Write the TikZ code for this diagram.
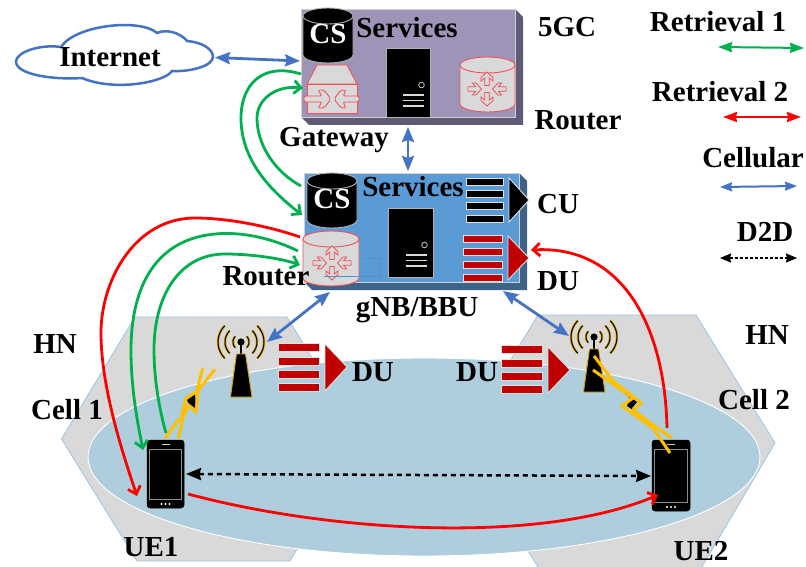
\documentclass[tikz,border=0pt]{standalone}
\usepackage{fontspec}
\setmainfont{Liberation Serif}
\usetikzlibrary{arrows.meta,shapes.geometric}
\definecolor{cblue}{HTML}{4472C4}
\definecolor{cgreen}{HTML}{00B050}
\definecolor{cred}{HTML}{FF0000}
\definecolor{cyel}{HTML}{FFC000}
\definecolor{dred}{HTML}{C00000}
\definecolor{hexf}{HTML}{D9D9D9}
\definecolor{hexl}{HTML}{9DC3E6}
\definecolor{ellf}{HTML}{AECDDD}
\definecolor{iconr}{HTML}{F25058}
\definecolor{facea}{HTML}{9E94B8}
\definecolor{sidea}{HTML}{5F5A75}
\definecolor{faceb}{HTML}{5B9BD5}
\definecolor{sideb}{HTML}{3D6488}
\tikzset{
 lbl/.style={font=\fontsize{29}{31}\selectfont\bfseries,text=black,inner sep=0pt},
 cslbl/.style={font=\fontsize{29}{31}\selectfont\bfseries,text=white,inner sep=0pt},
 blink/.style={cblue,line width=2.8pt,{Stealth[length=15pt,width=12pt,inset=2pt]}-{Stealth[length=15pt,width=12pt,inset=2pt]}},
 blegend/.style={cblue,line width=2pt,{Stealth[length=12pt,width=9pt,inset=1pt]}-{Stealth[length=12pt,width=9pt,inset=1pt]}},
 glegend/.style={cgreen,line width=2pt,{Stealth[length=14pt,width=10pt,inset=1pt]}-{Stealth[length=14pt,width=10pt,inset=1pt]}},
 rlegend/.style={cred,line width=2pt,{Stealth[length=14pt,width=10pt,inset=1pt]}-{Stealth[length=14pt,width=10pt,inset=1pt]}},
 dlegend/.style={black,line width=1.6pt,dash pattern=on 3pt off 2pt,{Stealth[length=11pt,width=9pt,inset=1pt]}-{Stealth[length=11pt,width=9pt,inset=1pt]}},
 dmain/.style={black,line width=2.5pt,dash pattern=on 5pt off 4pt,{Stealth[length=15pt,width=12pt,inset=1.5pt]}-{Stealth[length=15pt,width=12pt,inset=1.5pt]}},
 gcurve/.style={cgreen,line width=2.8pt},
 rcurve/.style={cred,line width=2.8pt},
 barb/.style={-{Straight Barb[length=7pt,width=13pt,line width=2.8pt]}},
 hex/.style={fill=hexf,draw=hexl,line width=0.8pt},
 bolt/.style={cyel,line width=3pt,line join=miter},
 icon/.style={draw=iconr,line width=0.9pt,line join=miter},
 server/.style={fill=black,draw=black!30,line width=0.9pt},
 phone/.style={fill=black,rounded corners=3pt,draw=black,line width=0.5pt},
}
\newcommand\Cyl[6]{%
 \pgfmathsetmacro\cxm{(#1+#3)/2}\pgfmathsetmacro\crx{(#3-#1)/2*0.55}%
 \pgfmathsetmacro\cxa{\cxm-\crx}\pgfmathsetmacro\cxb{\cxm+\crx}%
 \pgfmathsetmacro\cya{#2+8}\pgfmathsetmacro\cyb{#4-8}%
 \pgfmathsetmacro\cyc{#2+3.6}\pgfmathsetmacro\cyd{#4-3.6}%
 \pgfmathsetmacro\cye{\cya+4.4}\pgfmathsetmacro\cyf{\cya+8}%
 \draw[fill=#5,draw=#6,line width=0.9pt]
  (#1,\cya) .. controls (#1,\cyc) and (\cxa,#2) .. (\cxm,#2)
  .. controls (\cxb,#2) and (#3,\cyc) .. (#3,\cya) -- (#3,\cyb)
  .. controls (#3,\cyd) and (\cxb,#4) .. (\cxm,#4)
  .. controls (\cxa,#4) and (#1,\cyd) .. (#1,\cyb) -- cycle;
 \draw[draw=#6,line width=0.9pt] (#1,\cya) .. controls (#1,\cye) and (\cxa,\cyf) .. (\cxm,\cyf)
  .. controls (\cxb,\cyf) and (#3,\cye) .. (#3,\cya);
}
\newcommand\Oarrow[3]{%
 \begin{scope}[shift={(#1,#2)},rotate=#3]
  \draw[icon,line width=0.8pt,fill=hexf] (0,-2.2) -- (7.5,-2.2) -- (4.5,-6) -- (8,-6) -- (13.5,0) -- (8,6) -- (4.5,6) -- (7.5,2.2) -- (0,2.2) -- cycle;
 \end{scope}}
\newcommand\Router[2]{%
 \Oarrow{#1}{#2-3.5}{90}\Oarrow{#1}{#2+3.5}{-90}%
 \Oarrow{#1-19}{#2}{0}\Oarrow{#1+19}{#2}{180}}
\newcommand\Server[4]{%
 \draw[server] (#1,#2) rectangle (#3,#4);
 \pgfmathsetmacro\sxa{#3-8.5}\pgfmathsetmacro\sya{#4-32}%
 \draw[black!30,line width=0.9pt] (\sxa,\sya) circle[radius=2.8pt];
 \pgfmathsetmacro\sxb{#3-27}\pgfmathsetmacro\sxc{#3-6}%
 \foreach \d in {22,16.5,11}{\pgfmathsetmacro\syy{#4-\d}\draw[black!15,line width=1.1pt] (\sxb,\syy) -- (\sxc,\syy);}
}
\newcommand\Bars[8]{%
 \foreach \yy in {#3,#4,#5,#6}{\pgfmathsetmacro\yyb{\yy+#7}\draw[fill=#8,draw=black!12,line width=0.9pt] (#1,\yy) rectangle (#2,\yyb);}
}
\newcommand\Antenna[2]{%
 \foreach \rr in {8,16,23}{
  \foreach \lo/\hi in {-45/45,135/225}{
   \draw[cyel!85!black,line width=2.4pt] plot[domain=\lo:\hi,samples=10] ({#1+\rr*cos(\x)},{#2+\rr*sin(\x)});
   \draw[black,line width=1pt] plot[domain=\lo:\hi,samples=10] ({#1+\rr*cos(\x)},{#2+\rr*sin(\x)});
  }}
 \draw[black,line width=1.6pt] (#1,#2) -- (#1,#2+14);
 \fill[black] (#1,#2) circle[radius=3.6pt];
 \draw[fill=black,draw=cyel!85!black,line width=0.9pt] (#1-4.5,#2+12) -- (#1+4.5,#2+12) -- (#1+11,#2+55) -- (#1-10.5,#2+55) -- cycle;
}
\newcommand\Phone[5]{%
 \pgfmathsetmacro\pcx{(#2+#4)/2}\pgfmathsetmacro\pcy{(#3+#5)/2}%
 \pgfmathsetmacro\pw{#4-#2}\pgfmathsetmacro\ph{#5-#3}%
 \node[phone,inner sep=0pt,minimum width=\pw pt,minimum height=\ph pt] (#1) at (\pcx,\pcy) {};
 \draw[black!45,line width=0.9pt] (#2+2.5,#3+9) rectangle (#4-2.5,#5-9);
 \draw[black!20,line width=0.9pt] (\pcx-4,#3+4.5) -- (\pcx+4,#3+4.5);
 \foreach \dx in {-4,0,4}{\fill[white] (\pcx+\dx,#5-4) circle[radius=1.1pt];}
}
\begin{document}
\begin{tikzpicture}[x=1pt,y=-1pt]
\useasboundingbox (0,0) rectangle (806,567);
\fill[white] (0,0) rectangle (806,567);
% cells
\path[hex] (135,317) -- (287,317) -- (362,439) -- (290,561) -- (137,561) -- (61.5,439) -- cycle;
\path[hex] (538,315) -- (696,315) -- (775,443) -- (700,570) -- (540,570) -- (460,443) -- cycle;
\node[ellipse,fill=ellf,draw=white,line width=0.9pt,inner sep=0pt,minimum width=672pt,minimum height=198pt] (cover) at (424,457) {};
% cloud
\draw[cblue,line width=2.5pt,fill=white] (16,61) .. controls (17,52) and (40,44) .. (61,47)
 .. controls (75,25) and (140,18) .. (157,33)
 .. controls (165,29) and (180,32) .. (187,41)
 .. controls (200,42) and (213,48) .. (213,57)
 .. controls (213,66) and (190,72) .. (172,71)
 .. controls (165,82) and (115,92) .. (82,78)
 .. controls (55,80) and (15,75) .. (16,61) -- cycle;
\node[lbl] (internet) at (110,57) {Internet};
% 5GC box
\fill[sidea] (515,9) -- (523,17) -- (523,125) -- (309,125) -- (301,117) -- (515,117) -- cycle;
\draw[fill=facea,draw=black!18,line width=0.9pt] (301,9) rectangle (515,117);
\Cyl{303}{8}{353}{63}{black}{black!30}
\node[cslbl] (cs1) at (328,34) {CS};
\node[lbl] (serv1) at (407,28) {Services};
% gateway icon
\draw[icon,fill=hexf] (307,84) -- (317,65) -- (347,65) -- (357,84) -- cycle;
\draw[icon,fill=hexf] (307,84) rectangle (357,113);
\draw[icon,fill=hexf,rounded corners=2pt] (304,99) -- (304,96) -- (322,96) -- (318,90) -- (324,90) -- (331,99) -- (324,108) -- (318,108) -- (322,102) -- (304,102) -- cycle;
\draw[icon,fill=hexf,rounded corners=2pt] (359,99) -- (359,96) -- (343,96) -- (346,90) -- (341,90) -- (334,99) -- (341,108) -- (346,108) -- (343,102) -- (359,102) -- cycle;
\Server{386}{48}{430}{117}
\Cyl{460}{57}{515}{112}{hexf}{iconr}
\Router{487}{89}
% gNB box
\fill[sideb] (519,173) -- (527,181) -- (527,290) -- (312,290) -- (304,282) -- (519,282) -- cycle;
\draw[fill=faceb,draw=black!18,line width=0.9pt] (304,173) rectangle (519,282);
\Cyl{307}{173}{357}{228}{black}{black!30}
\node[cslbl] (cs2) at (332,199) {CS};
\node[lbl] (serv2) at (413,187) {Services};
\Server{388}{208}{433}{277}
\Bars{466}{503}{178}{190}{202}{215}{7.5}{black}
\fill[black,draw=black!12,line width=0.9pt] (509,178) -- (529,200) -- (509,222) -- cycle;
\Bars{463}{502}{235}{248}{261}{274}{7.5}{dred}
\fill[dred,draw=black!12,line width=0.9pt] (508,236) -- (529,258) -- (508,280) -- cycle;
\Cyl{303}{231}{359}{286}{hexf}{iconr}
\Router{332}{263}
\draw[faceb!93!black,line width=0.6pt] (324,276) -- (380,276) -- (380,258) -- (362,258);
% field DU icons
\Bars{278}{319}{343}{357}{370}{383}{8}{dred}
\fill[dred,draw=black!12,line width=0.9pt] (325,344) -- (347,367) -- (325,391) -- cycle;
\Bars{501}{542}{345}{359}{372}{385}{8}{dred}
\fill[dred,draw=black!12,line width=0.9pt] (548,347) -- (570,370) -- (548,393) -- cycle;
% antennas
\Antenna{241}{342}
\Antenna{594}{337}
% phones
\Phone{ueone}{147}{440}{184}{508}
\Phone{uetwo}{652}{440}{690}{511}
% bolts
\fill[black] (187,400) -- (195,394) -- (196,409) -- (188.3,403) -- cycle;
\draw[bolt] (165,438.3) -- (178.3,420) -- (180.7,420) -- (186,398.3) -- (196.7,391.7) -- (202.7,368.3);
\draw[bolt] (178.3,438.3) -- (182.7,418.3) -- (188.3,405) -- (196,411.7) -- (198.3,390) -- (215,369.3);
\fill[black] (620,390) -- (637,402) -- (632,408) -- (645,418) -- (627,406) -- (630,398) -- cycle;
\draw[bolt] (594,356) -- (613,381) -- (635,398) -- (641,403) -- (633,410) -- (653,425) -- (672,438);
\draw[bolt] (593,370) -- (633,398) -- (622,406) -- (653,428) -- (670,453);
% coordinates for connectors
\coordinate (inR) at (215,57.5);  \coordinate (fgL) at (300,61);
\coordinate (fgB) at (408,127);   \coordinate (gnT) at (408,171);
\coordinate (gnL) at (330,292);   \coordinate (anL) at (267,342);
\coordinate (gnR) at (503,291);   \coordinate (anR) at (569,336);
\coordinate (gw1) at (301,74);    \coordinate (gw2) at (303,88);
\coordinate (gn1) at (302,215);   \coordinate (gn2) at (301,186);
\coordinate (rt1) at (298,251);   \coordinate (rt2) at (300,265);
\coordinate (rt3) at (300,237);
\coordinate (p1a) at (143,450);   \coordinate (p1b) at (166,433);
\coordinate (p1c) at (137,496);   \coordinate (p1d) at (188,494);
\coordinate (p2a) at (658,495);   \coordinate (p2b) at (667,428);
\coordinate (duR) at (531,250);
\coordinate (d2a) at (186,474);   \coordinate (d2b) at (651,476);
% cellular
\draw[blink] (inR) -- (fgL);
\draw[blink] (fgB) -- (gnT);
\draw[blink] (gnL) -- (anL);
\draw[blink] (gnR) -- (anR);
% retrieval curves
\draw[gcurve,barb] (gw1) .. controls (262,62) and (241,85) .. (241,118) .. controls (241,160) and (270,190) .. (gn1);
\draw[gcurve,barb] (gn2) .. controls (275,172) and (257,145) .. (257,118) .. controls (257,100) and (275,85) .. (gw2);
\draw[gcurve,barb] (rt1) .. controls (265,235) and (235,232) .. (215,234) .. controls (150,240) and (131,295) .. (131,350) .. controls (131,390) and (138,425) .. (p1a);
\draw[gcurve,barb] (p1b) .. controls (158,405) and (154,375) .. (154,350) .. controls (154,295) and (180,254) .. (225,254) .. controls (250,254) and (280,258) .. (rt2);
\draw[rcurve,barb] (rt3) .. controls (265,225) and (225,218) .. (195,218) .. controls (135,218) and (101,280) .. (101,333) .. controls (101,390) and (125,460) .. (p1c);
\draw[rcurve,barb] (p1d) .. controls (330,532) and (540,545) .. (p2a);
\draw[rcurve,barb] (p2b) .. controls (665,330) and (625,245) .. (duR);
\draw[dmain] (d2a) -- (d2b);
% labels
\node[lbl] (lg5) at (567,27) {5GC};
\node[lbl] (lrt) at (578,120) {Router};
\node[lbl] (lgw) at (334,140) {Gateway};
\node[lbl] (lcu) at (558,204) {CU};
\node[lbl] (ldu) at (558,281) {DU};
\node[lbl] (lrt2) at (266,276) {Router};
\node[lbl] (lbb) at (417,310) {gNB/BBU};
\node[lbl] (lhn1) at (55,344) {HN};
\node[lbl] (lc1) at (67,410) {Cell 1};
\node[lbl] (ld1) at (373,372) {DU};
\node[lbl] (ld2) at (477,372) {DU};
\node[lbl] (lhn2) at (767,335) {HN};
\node[lbl] (lc2) at (754,400) {Cell 2};
\node[lbl] (lu1) at (151,547) {UE1};
\node[lbl] (lu2) at (701,551) {UE2};
% legend
\node[lbl] (lr1) at (718,22) {Retrieval 1};
\node[lbl] (lr2) at (720,92) {Retrieval 2};
\node[lbl] (lce) at (753,158) {Cellular};
\node[lbl] (ldd) at (765,232) {D2D};
\coordinate (ka) at (718,47); \coordinate (kb) at (804,48);
\coordinate (kc) at (723,117); \coordinate (kd) at (801,117);
\coordinate (ke) at (720,187); \coordinate (kf) at (797,186);
\coordinate (kg) at (720,258); \coordinate (kh) at (797,258);
\draw[glegend] (ka) -- (kb);
\draw[rlegend] (kc) -- (kd);
\draw[blegend] (ke) -- (kf);
\draw[dlegend] (kg) -- (kh);
\end{tikzpicture}
\end{document}
